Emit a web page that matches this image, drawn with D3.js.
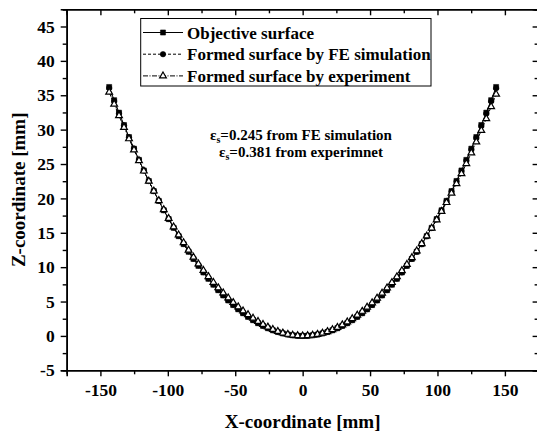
<!DOCTYPE html>
<html>
<head>
<meta charset="utf-8">
<script src="https://cdn.jsdelivr.net/npm/d3@7.9.0/dist/d3.min.js"></script>
<style>
  body { margin: 0; background: #fff; }
  svg { display: block; }
  text { font-family: "Liberation Serif", "Times New Roman", serif; font-weight: bold; fill: #000; }
</style>
</head>
<body>
<svg id="chart" width="537" height="435"></svg>
<script>
// x positions of the measured points (mm)
const xCoords = [-143.5, -139.8, -136.2, -132.5, -128.8, -125.1, -121.4, -117.8, -114.1, -110.4,
  -106.7, -103.0, -99.4, -95.7, -92.0, -88.3, -84.6, -81.0, -77.3, -73.6,
  -69.9, -66.2, -62.6, -58.9, -55.2, -51.5, -47.8, -44.2, -40.5, -36.8,
  -33.1, -29.4, -25.8, -22.1, -18.4, -14.7, -11.0, -7.4, -3.7, 0,
  3.7, 7.4, 11.0, 14.7, 18.4, 22.1, 25.8, 29.4, 33.1, 36.8,
  40.5, 44.2, 47.8, 51.5, 55.2, 58.9, 62.6, 66.2, 69.9, 73.6,
  77.3, 81.0, 84.6, 88.3, 92.0, 95.7, 99.4, 103.0, 106.7, 110.4,
  114.1, 117.8, 121.4, 125.1, 128.8, 132.5, 136.2, 139.8, 143.5];

// z values (mm)
const zObjective = [36.20, 34.28, 32.47, 30.67, 28.92, 27.23, 25.60, 24.06, 22.53, 21.06,
  19.64, 18.27, 16.99, 15.72, 14.51, 13.35, 12.24, 11.20, 10.19, 9.23,
  8.31, 7.45, 6.65, 5.89, 5.16, 4.49, 3.87, 3.30, 2.77, 2.29,
  1.85, 1.46, 1.12, 0.82, 0.57, 0.36, 0.20, 0.09, 0.02, 0,
  0.02, 0.09, 0.20, 0.36, 0.57, 0.82, 1.12, 1.46, 1.85, 2.29,
  2.77, 3.30, 3.87, 4.49, 5.16, 5.89, 6.65, 7.45, 8.31, 9.23,
  10.19, 11.20, 12.24, 13.35, 14.51, 15.72, 16.99, 18.27, 19.64, 21.06,
  22.53, 24.06, 25.60, 27.23, 28.92, 30.67, 32.47, 34.28, 36.20];

const zSimulation = [36.05, 34.15, 32.38, 30.60, 28.87, 27.20, 25.58, 24.05, 22.53, 21.07,
  19.66, 18.30, 17.02, 15.76, 14.55, 13.39, 12.28, 11.24, 10.23, 9.27,
  8.35, 7.49, 6.69, 5.93, 5.20, 4.53, 3.91, 3.34, 2.81, 2.33,
  1.89, 1.49, 1.15, 0.85, 0.59, 0.38, 0.22, 0.11, 0.04, 0.02,
  0.04, 0.11, 0.22, 0.38, 0.59, 0.84, 1.14, 1.48, 1.87, 2.31,
  2.79, 3.32, 3.89, 4.51, 5.18, 5.91, 6.67, 7.47, 8.33, 9.24,
  10.20, 11.20, 12.24, 13.34, 14.49, 15.69, 16.95, 18.22, 19.58, 20.99,
  22.45, 23.97, 25.50, 27.12, 28.80, 30.54, 32.33, 34.13, 36.02];

const zExperiment = [35.45, 33.70, 32.02, 30.33, 28.67, 27.05, 25.48, 23.98, 22.50, 21.07,
  19.68, 18.35, 17.09, 15.86, 14.68, 13.55, 12.47, 11.45, 10.46, 9.53,
  8.63, 7.79, 7.00, 6.25, 5.53, 4.86, 4.23, 3.64, 3.09, 2.58,
  2.10, 1.67, 1.29, 0.95, 0.66, 0.42, 0.24, 0.11, 0.03, 0.00,
  0.03, 0.10, 0.23, 0.40, 0.63, 0.91, 1.24, 1.61, 2.03, 2.50,
  3.02, 3.58, 4.17, 4.81, 5.49, 6.21, 6.97, 7.76, 8.60, 9.48,
  10.40, 11.37, 12.37, 13.43, 14.53, 15.68, 16.88, 18.10, 19.40, 20.75,
  22.14, 23.59, 25.06, 26.61, 28.21, 29.88, 31.60, 33.33, 35.15];

const xTicks = [-150, -100, -50, 0, 50, 100, 150];
const xMinorTicks = [-125, -75, -25, 25, 75, 125];
const yTicks = [-5, 0, 5, 10, 15, 20, 25, 30, 35, 40, 45];
const yMinorTicks = [-2.5, 2.5, 7.5, 12.5, 17.5, 22.5, 27.5, 32.5, 37.5, 42.5, 47.5];
const legendLabels = ['Objective surface', 'Formed surface by FE simulation', 'Formed surface by experiment'];

const svg = d3.select('#chart');

const plot = { left: 66.7, right: 538.6, top: 9.3, bottom: 370.3 };

const x = d3.scaleLinear().domain([-175, 175]).range([plot.left, plot.right]);
const y = d3.scaleLinear().domain([-5, 47.5]).range([plot.bottom, plot.top]);

// axes: bottom/left ticks out, top/right ticks in
function drawAxis(axis, transform, minor) {
  const g = svg.append('g').attr('transform', transform).call(axis);
  g.select('.domain').attr('stroke-width', 1.6);
  g.selectAll('.tick line').attr('stroke-width', 1.4);
  if (minor) g.selectAll('.tick text').remove();
  return g;
}

const fmt = d => String(d);

const bottom = drawAxis(d3.axisBottom(x).tickValues(xTicks).tickSize(6).tickPadding(7).tickFormat(fmt),
  `translate(0,${plot.bottom})`);
bottom.selectAll('.tick text').attr('font-size', 17.5);
drawAxis(d3.axisBottom(x).tickValues(xMinorTicks).tickSize(4).tickFormat(''), `translate(0,${plot.bottom})`, true);

const left = drawAxis(d3.axisLeft(y).tickValues(yTicks).tickSize(6).tickPadding(6).tickFormat(fmt),
  `translate(${plot.left},0)`);
left.selectAll('.tick text').attr('font-size', 17.5);
drawAxis(d3.axisLeft(y).tickValues(yMinorTicks).tickSize(4).tickFormat(''), `translate(${plot.left},0)`, true);

drawAxis(d3.axisBottom(x).tickValues(xTicks).tickSize(6).tickFormat(''), `translate(0,${plot.top})`, true);
drawAxis(d3.axisBottom(x).tickValues(xMinorTicks).tickSize(4).tickFormat(''), `translate(0,${plot.top})`, true);
drawAxis(d3.axisLeft(y).tickValues(yTicks).tickSize(6).tickFormat(''), `translate(${plot.right},0)`, true);
drawAxis(d3.axisLeft(y).tickValues(yMinorTicks).tickSize(4).tickFormat(''), `translate(${plot.right},0)`, true);

svg.selectAll('.tick text')
  .style('font-family', '"Liberation Serif", "Times New Roman", serif')
  .style('font-weight', 'bold');

// axis titles
svg.append('text')
  .attr('x', (plot.left + plot.right) / 2)
  .attr('y', 428)
  .attr('text-anchor', 'middle')
  .attr('font-size', 19)
  .text('X-coordinate [mm]');

svg.append('text')
  .attr('transform', `translate(25,${(plot.top + plot.bottom) / 2}) rotate(-90)`)
  .attr('text-anchor', 'middle')
  .attr('font-size', 19)
  .text('Z-coordinate [mm]');

// series
const series = [
  { z: zObjective, dash: null, marker: 'square' },
  { z: zSimulation, dash: '3,2', marker: 'circle' },
  { z: zExperiment, dash: '5,1.5,1,1.5', marker: 'triangle' }
];

const symbols = {
  square: d3.symbol().type(d3.symbolSquare).size(26),
  circle: d3.symbol().type(d3.symbolCircle).size(24),
  triangle: d3.symbol().type(d3.symbolTriangle).size(20)
};

const line = d3.line();

function drawMarker(g, type, px, py) {
  g.append('path')
    .attr('d', symbols[type]())
    .attr('transform', `translate(${px},${py})`)
    .attr('fill', type === 'triangle' ? '#fff' : '#000')
    .attr('stroke', '#000')
    .attr('stroke-width', type === 'triangle' ? 1.2 : 0.5);
}

series.forEach(s => {
  const pts = xCoords.map((xv, i) => [x(xv), y(s.z[i])]);
  svg.append('path')
    .attr('d', line(pts))
    .attr('fill', 'none')
    .attr('stroke', '#000')
    .attr('stroke-width', 1)
    .attr('stroke-dasharray', s.dash);
  const g = svg.append('g');
  pts.forEach(p => drawMarker(g, s.marker, p[0], p[1]));
});

// legend
const legend = svg.append('g');
legend.append('rect')
  .attr('x', 140.7).attr('y', 18.5)
  .attr('width', 290.3).attr('height', 67.5)
  .attr('fill', '#fff')
  .attr('stroke', '#000')
  .attr('stroke-width', 1);

series.forEach((s, i) => {
  const ly = 32.5 + i * 21.7;
  legend.append('line')
    .attr('x1', 143).attr('x2', 183)
    .attr('y1', ly).attr('y2', ly)
    .attr('stroke', '#000')
    .attr('stroke-width', 1)
    .attr('stroke-dasharray', s.dash);
  drawMarker(legend, s.marker, 163, ly);
  legend.append('text')
    .attr('x', 187)
    .attr('y', ly + 6)
    .attr('font-size', 17)
    .text(legendLabels[i]);
});

// strain annotation
const notes = [['0.245 from FE simulation', 140], ['0.381 from experimnet', 157]];
notes.forEach(([txt, ty]) => {
  const t = svg.append('text')
    .attr('x', 301)
    .attr('y', ty)
    .attr('text-anchor', 'middle')
    .attr('font-size', 15);
  t.append('tspan').text('ε');
  t.append('tspan').attr('font-size', 10).attr('dy', 3).text('s');
  t.append('tspan').attr('dy', -3).text('=' + txt);
});
</script>
</body>
</html>
